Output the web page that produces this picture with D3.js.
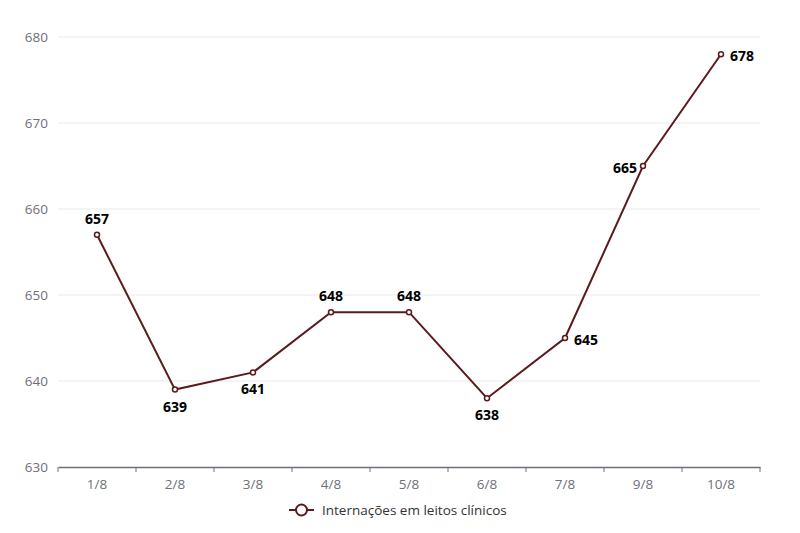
<!DOCTYPE html>
<html>
<head>
<meta charset="utf-8">
<script src="https://cdn.jsdelivr.net/npm/d3@7"></script>
<style>
  body { margin: 0; background: #fff; }
  text { font-family: "Open Sans", "Noto Sans", sans-serif; }
</style>
</head>
<body>
<div id="chart"></div>
<script>
var width = 800, height = 533;

var dias = ["1/8", "2/8", "3/8", "4/8", "5/8", "6/8", "7/8", "9/8", "10/8"];
var internacoes = [657, 639, 641, 648, 648, 638, 645, 665, 678];
// where each value label sits relative to its point
var posRotulo = ["top", "bottom", "bottom", "top", "top", "bottom", "right", "left", "right"];
var yTicks = [630, 640, 650, 660, 670, 680];
var serieNome = "Internações em leitos clínicos";

var cor = "#5b1a1d";
var margin = {left: 58, right: 40, top: 37, bottom: 66};

var svg = d3.select("#chart")
            .append("svg")
            .attr("width", width)
            .attr("height", height);

var x = d3.scaleBand()
          .domain(dias)
          .range([margin.left, width - margin.right]);

var y = d3.scaleLinear()
          .domain([630, 680])
          .range([height - margin.bottom, margin.top]);

// grid
svg.append("g")
   .selectAll("line")
   .data(yTicks.slice(1))
   .enter()
   .append("line")
   .attr("x1", margin.left)
   .attr("x2", width - margin.right)
   .attr("y1", function(d) { return y(d); })
   .attr("y2", function(d) { return y(d); })
   .style("stroke", "#e9e9e9");

// y labels
svg.append("g")
   .selectAll("text")
   .data(yTicks)
   .enter()
   .append("text")
   .attr("x", margin.left - 10)
   .attr("y", function(d) { return y(d); })
   .attr("dy", "0.35em")
   .attr("text-anchor", "end")
   .style("font-size", "13.5px")
   .style("fill", "#6e7079")
   .text(function(d) { return d; });

// x axis
var xAxis = svg.append("g")
   .attr("transform", "translate(0," + y(630) + ")")
   .call(d3.axisBottom(x).tickSize(0).tickPadding(12));
xAxis.select(".domain").style("stroke", "#6e7079").style("stroke-width", 1.5);
xAxis.selectAll("text").style("font-size", "13.5px").style("fill", "#6e7079")
     .style("font-family", "'Open Sans', 'Noto Sans', sans-serif");

var bordas = dias.map(function(d) { return x(d); }).concat([x.range()[1]]);
xAxis.selectAll(".borda")
     .data(bordas)
     .enter()
     .append("line")
     .attr("x1", function(d) { return d; })
     .attr("x2", function(d) { return d; })
     .attr("y1", 0)
     .attr("y2", 5)
     .style("stroke", "#6e7079");

var cx = function(d, i) { return x(dias[i]) + x.bandwidth() / 2; };

var linha = d3.line()
              .x(function(d, i) { return cx(d, i); })
              .y(function(d) { return y(d); });

svg.append("path")
   .datum(internacoes)
   .attr("d", linha)
   .style("fill", "none")
   .style("stroke", cor)
   .style("stroke-width", 2);

svg.append("g")
   .selectAll("circle")
   .data(internacoes)
   .enter()
   .append("circle")
   .attr("cx", cx)
   .attr("cy", function(d) { return y(d); })
   .attr("r", 2.5)
   .style("fill", "#fff")
   .style("stroke", cor)
   .style("stroke-width", 1.5);

// value labels
svg.append("g")
   .selectAll("text")
   .data(internacoes)
   .enter()
   .append("text")
   .attr("x", function(d, i) {
      var p = posRotulo[i];
      if (p === "right") return cx(d, i) + 9;
      if (p === "left") return cx(d, i) - 6;
      return cx(d, i);
   })
   .attr("y", function(d, i) {
      var p = posRotulo[i];
      if (p === "top") return y(d) - 16;
      if (p === "bottom") return y(d) + 17;
      return y(d) + 2;
   })
   .attr("dy", "0.35em")
   .attr("text-anchor", function(d, i) {
      var p = posRotulo[i];
      if (p === "right") return "start";
      if (p === "left") return "end";
      return "middle";
   })
   .style("font-size", "14px")
   .style("font-weight", "bold")
   .style("fill", "#000")
   .text(function(d) { return d; });

// legend
var leg = svg.append("g").attr("transform", "translate(289,510)");
leg.append("line")
   .attr("x1", 0).attr("x2", 25).attr("y1", 0).attr("y2", 0)
   .style("stroke", cor).style("stroke-width", 2);
leg.append("circle")
   .attr("cx", 12.5).attr("cy", 0).attr("r", 5.5)
   .style("fill", "#fff").style("stroke", cor).style("stroke-width", 2);
leg.append("text")
   .attr("x", 33).attr("y", 0).attr("dy", "0.35em")
   .style("font-size", "13.5px")
   .style("fill", "#333")
   .text(serieNome);
</script>
</body>
</html>
